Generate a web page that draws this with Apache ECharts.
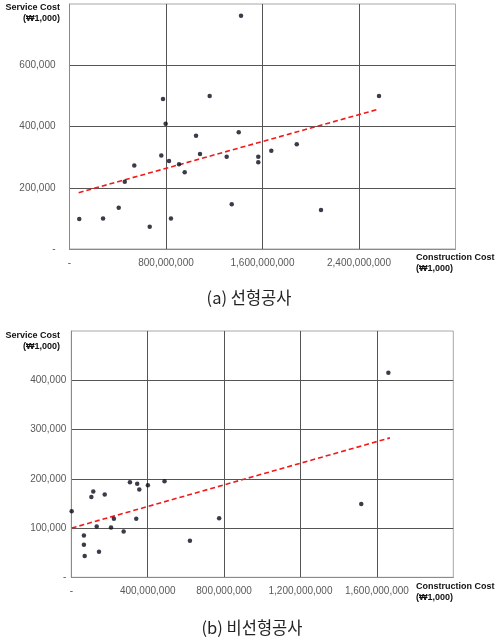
<!DOCTYPE html>
<html>
<head>
<meta charset="utf-8">
<script src="https://cdn.jsdelivr.net/npm/echarts@6/dist/echarts.min.js"></script>
<style>
  html, body { margin: 0; padding: 0; background: #fff; }
  #chart { width: 496px; height: 643px; }
</style>
</head>
<body>
<div id="chart"></div>
<script>
// (a) linear projects: construction cost vs service cost (both in ₩1,000)
const linearConstruction = [81e6, 278e6, 408e6, 458e6, 537e6, 665e6, 761e6, 775e6, 797e6, 825e6,
  841e6, 908e6, 955e6, 1049e6, 1082e6, 1162e6, 1303e6, 1345e6, 1403e6, 1422e6,
  1565e6, 1565e6, 1673e6, 1884e6, 2085e6, 2566e6];
const linearService = [98e3, 100e3, 135e3, 220e3, 273e3, 73e3, 305e3, 490e3, 409e3, 287e3,
  100e3, 277e3, 251e3, 370e3, 310e3, 500e3, 301e3, 146e3, 381e3, 762e3,
  301e3, 283e3, 321e3, 342e3, 127e3, 500e3];
const linearTrendX = [76e6, 2566e6];
const linearTrendY = [184e3, 457e3];

// (b) non-linear projects
const nonlinearConstruction = [2e6, 66e6, 66e6, 70e6, 105e6, 115e6, 133e6, 145e6, 175e6, 208e6,
  223e6, 274e6, 307e6, 340e6, 345e6, 356e6, 401e6, 488e6, 621e6, 774e6, 1518e6, 1660e6];
const nonlinearService = [134e3, 85e3, 66e3, 43e3, 163e3, 174e3, 103e3, 52e3, 168e3, 101e3,
  119e3, 93e3, 193e3, 119e3, 190e3, 178e3, 187e3, 195e3, 74e3, 120e3, 149e3, 415e3];
const nonlinearTrendX = [2e6, 1668e6];
const nonlinearTrendY = [100e3, 283e3];

// axis ranges and steps
const linearXAxis = { max: 3200e6, interval: 800e6 };
const linearYAxis = { max: 800e3, interval: 200e3 };
const nonlinearXAxis = { max: 2000e6, interval: 400e6 };
const nonlinearYAxis = { max: 500e3, interval: 100e3 };

const captions = ['(a) 선형공사', '(b) 비선형공사'];
const yName = ['Service Cost', '(₩1,000)'];
const xName = ['Construction Cost', '(₩1,000)'];

const zip = (a, b) => a.map((v, i) => [v, b[i]]);
const fmt = v => v === 0 ? '-' : v.toLocaleString('en-US');

const tickFont = { fontFamily: 'Liberation Sans, Arial, sans-serif', fontSize: 10, color: '#595959' };

function xAxisFor(gridIndex, cfg) {
  return {
    type: 'value', gridIndex, min: 0, max: cfg.max, interval: cfg.interval,
    axisLine: { show: true, lineStyle: { color: '#8a8a8a', width: 1 } },
    axisTick: { show: false },
    axisLabel: Object.assign({ formatter: fmt, margin: 9, showMaxLabel: false }, tickFont),
    splitLine: { show: true, showMinLine: false, showMaxLine: false, lineStyle: { color: '#555', width: 1 } }
  };
}
function yAxisFor(gridIndex, cfg, margin) {
  return {
    type: 'value', gridIndex, min: 0, max: cfg.max, interval: cfg.interval,
    axisLine: { show: true, lineStyle: { color: '#8a8a8a', width: 1 } },
    axisTick: { show: false },
    axisLabel: Object.assign({ formatter: fmt, margin, showMaxLabel: false }, tickFont),
    splitLine: { show: true, showMinLine: false, showMaxLine: false, lineStyle: { color: '#555', width: 1 } }
  };
}

function scatter(idx, x, y) {
  return {
    type: 'scatter', xAxisIndex: idx, yAxisIndex: idx, data: zip(x, y),
    symbol: 'circle', symbolSize: 4.5, itemStyle: { color: '#0b0b1a' }, z: 5
  };
}
function trend(idx, x, y) {
  return {
    type: 'line', xAxisIndex: idx, yAxisIndex: idx, data: zip(x, y),
    symbol: 'none', lineStyle: { color: '#f01a1a', width: 1.6, type: [5, 3] }, z: 4
  };
}

const boldName = { fontFamily: 'Liberation Sans, Arial, sans-serif', fontSize: 9, fontWeight: 'bold', fill: '#111' };
function nameBlock(lines, x, y, align) {
  return lines.map((t, i) => ({
    type: 'text', x, y: y + i * 11,
    style: Object.assign({ text: t, textAlign: align, textVerticalAlign: 'middle' }, boldName)
  }));
}
function caption(text, x, y) {
  return {
    type: 'text', x, y,
    style: { text, textAlign: 'center', textVerticalAlign: 'middle', fontFamily: 'Noto Sans CJK KR, sans-serif', fontSize: 16.5, fill: '#222' }
  };
}

const chart = echarts.init(document.getElementById('chart'), null, { renderer: 'canvas' });
chart.setOption({
  animation: false,
  backgroundColor: '#fff',
  grid: [
    { left: 69.5, top: 4, width: 386, height: 245, show: true, borderColor: '#a8a8a8', borderWidth: 1, backgroundColor: 'transparent' },
    { left: 71.3, top: 331, width: 382, height: 246.3, show: true, borderColor: '#a8a8a8', borderWidth: 1, backgroundColor: 'transparent' }
  ],
  xAxis: [xAxisFor(0, linearXAxis), xAxisFor(1, nonlinearXAxis)],
  yAxis: [yAxisFor(0, linearYAxis, 14), yAxisFor(1, nonlinearYAxis, 5)],
  series: [
    trend(0, linearTrendX, linearTrendY),
    scatter(0, linearConstruction, linearService),
    trend(1, nonlinearTrendX, nonlinearTrendY),
    scatter(1, nonlinearConstruction, nonlinearService)
  ],
  graphic: [].concat(
    nameBlock(yName, 60, 8, 'right'),
    nameBlock(xName, 416, 258, 'left'),
    nameBlock(yName, 60, 336, 'right'),
    nameBlock(xName, 416, 587, 'left'),
    [caption(captions[0], 249, 298), caption(captions[1], 252, 628)]
  )
});
</script>
</body>
</html>
